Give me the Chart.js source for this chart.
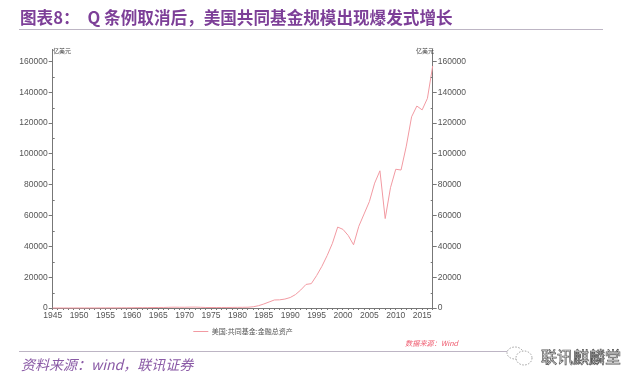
<!DOCTYPE html>
<html>
<head>
<meta charset="utf-8">
<script src="https://cdn.jsdelivr.net/npm/chart.js@4"></script>
<style>
  html, body { margin: 0; padding: 0; background: #fff; }
  #wrap { position: relative; width: 640px; height: 385px; overflow: hidden; font-family: "Noto Sans CJK SC", sans-serif; }
  #chart { position: absolute; left: 0; top: 0; }
  .txt { position: absolute; white-space: nowrap; line-height: 1; }
  .rule { position: absolute; height: 1px; background: #bdb5c4; }
  #title { left: 20px; top: 9px; font-size: 16.6px; font-weight: 700; color: #7d3f98; }
  #title span { margin-left: 8px; }
  #foot { left: 21px; top: 357px; font-size: 14px; font-style: italic; color: #8a5aa6; }
  .unit { top: 48px; font-size: 6px; color: #444; }
  #src { left: 405px; top: 340px; font-size: 7.2px; font-style: italic; color: #ef5a6e; }
  #mark { left: 541px; top: 348px; font-size: 16px; color: #fff; -webkit-text-stroke: 0.7px #555; }
</style>
</head>
<body>
<div id="wrap">
  <canvas id="chart" width="486" height="352"></canvas>
  <div class="txt" id="title">图表8&#xFF1A;<span>Q 条例取消后&#xFF0C;美国共同基金规模出现爆发式增长</span></div>
  <div class="rule" style="left:19px;top:29px;width:584px"></div>
  <div class="txt unit" style="left:53px">亿美元</div>
  <div class="txt unit" style="left:416px">亿美元</div>
  <div class="txt" id="src">数据来源&#xFF1A;Wind</div>
  <div class="rule" style="left:19px;top:351px;width:490px"></div>
  <svg style="position:absolute;left:505px;top:346px" width="34" height="22" fill="#fff" stroke="#777" stroke-width="0.7" stroke-dasharray="1.5 1.5">
    <ellipse cx="10" cy="7" rx="8" ry="6"/>
    <ellipse cx="19" cy="12" rx="8" ry="7"/>
  </svg>
  <div class="txt" id="mark">联讯麒麟堂</div>
  <div class="txt" id="foot">资料来源&#xFF1A;wind&#xFF0C;联讯证券</div>
</div>
<script>
const years = [];
for (let y = 1945; y <= 2017; y++) years.push(y);

const assets = [
  12, 13, 15, 18, 20, 25, 30, 35, 40, 60, 78, 90, 90, 130, 150,
  170, 230, 230, 250, 290, 350, 350, 450, 520, 480, 476, 550, 590, 460, 340,
  300, 320, 340, 350, 380, 420, 450, 500, 800, 1500,
  2600, 3900, 5200, 5300, 5800, 6800, 8700, 11700, 15300, 15800, 21000, 27000, 34000, 42000, 52500,
  51000, 47000, 41000, 53000, 61000, 69000, 81000, 89000, 58000, 78000, 90000, 89500, 105000, 124000,
  131000, 128500, 136000, 157000
];
const yLabels = [0, 20000, 40000, 60000, 80000, 100000, 120000, 140000, 160000];
const legendName = "美国:共同基金:金融总资产";

const axisColor = "#777";
const labelColor = "#555";
const labelFont = { family: "Liberation Sans", size: 8.5 };

// short ticks at the in-between values
const minorTicks = {
  id: "minorTicks",
  afterDraw(chart) {
    const ctx = chart.ctx;
    const area = chart.chartArea;
    ctx.save();
    ctx.strokeStyle = axisColor;
    ctx.lineWidth = 1;
    ctx.beginPath();
    for (let i = 0; i < yLabels.length - 1; i++) {
      const p = Math.round(chart.scales.y.getPixelForValue(yLabels[i] + 10000)) + 0.5;
      ctx.moveTo(area.left, p);
      ctx.lineTo(area.left + 2, p);
      ctx.moveTo(area.right, p);
      ctx.lineTo(area.right - 2, p);
    }
    ctx.stroke();
    ctx.restore();
  }
};

function yAxis(position, width) {
  return {
    position: position,
    min: 0,
    max: 168000,
    afterBuildTicks: (scale) => {
      scale.ticks = yLabels.map((v) => ({ value: v }));
    },
    afterFit: (scale) => {
      scale.width = width;
    },
    ticks: {
      color: labelColor,
      font: labelFont,
      padding: 1,
      callback: (v) => String(v)
    },
    grid: { drawOnChartArea: false, color: axisColor, tickLength: 4 },
    border: { color: axisColor }
  };
}

new Chart(document.getElementById("chart"), {
  type: "line",
  data: {
    labels: years,
    datasets: [{
      label: legendName,
      data: assets,
      borderColor: "#f29aa2",
      backgroundColor: "#f29aa2",
      borderWidth: 1,
      pointRadius: 0,
      tension: 0,
      clip: false,
      yAxisID: "y"
    }]
  },
  plugins: [minorTicks],
  options: {
    responsive: false,
    animation: false,
    layout: { padding: { top: 49, left: 0, right: 0, bottom: 7 } },
    plugins: {
      tooltip: { enabled: false },
      legend: {
        position: "bottom",
        labels: {
          usePointStyle: true,
          pointStyle: "line",
          pointStyleWidth: 15,
          boxHeight: 7,
          padding: 2,
          color: labelColor,
          font: { family: "Noto Sans CJK SC", size: 7 }
        }
      }
    },
    scales: {
      x: {
        offset: false,
        afterFit: (scale) => {
          scale.height = 18;
        },
        ticks: {
          autoSkip: false,
          maxRotation: 0,
          color: labelColor,
          font: labelFont,
          padding: 1,
          callback: function (v, i) {
            return years[i] % 5 === 0 ? String(years[i]) : "";
          }
        },
        grid: { drawOnChartArea: false, color: axisColor, tickLength: 2 },
        border: { color: axisColor }
      },
      y: yAxis("left", 52.7),
      y2: yAxis("right", 53.3)
    }
  }
});
</script>
</body>
</html>
